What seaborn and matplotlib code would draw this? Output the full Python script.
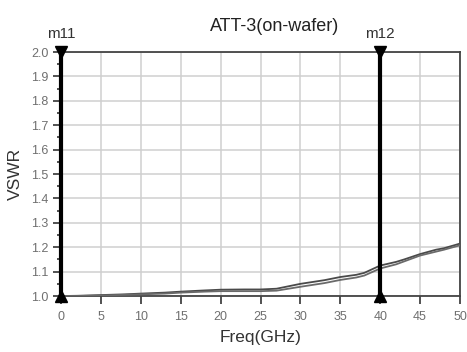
import matplotlib
matplotlib.use("Agg")
import matplotlib.pyplot as plt
import seaborn as sns
import pandas as pd
import numpy as np

freq = [0, 2, 5, 8, 10, 13, 15, 18, 20, 23, 25, 27, 30, 33, 35, 37, 38, 40, 42, 43, 45, 47, 48, 50]
vswr_a = [1.000, 1.001, 1.004, 1.007, 1.010, 1.014, 1.018, 1.023, 1.026, 1.027, 1.027, 1.030, 1.050, 1.065, 1.078, 1.087, 1.095, 1.125, 1.140, 1.150, 1.172, 1.190, 1.196, 1.215]
vswr_b = [1.000, 1.000, 1.002, 1.005, 1.007, 1.010, 1.014, 1.018, 1.020, 1.020, 1.020, 1.022, 1.038, 1.053, 1.066, 1.076, 1.084, 1.113, 1.130, 1.142, 1.166, 1.182, 1.190, 1.208]
markers = {"m11": 0, "m12": 40}
title = "ATT-3(on-wafer)"
xlabel = "Freq(GHz)"
ylabel = "VSWR"

sns.set_style("ticks")
plt.rcParams['font.family'] = ['Liberation Sans', 'DejaVu Sans']

fig = plt.figure(figsize=(4.67, 3.52), dpi=100)
ax = fig.add_axes([0.131, 0.159, 0.854, 0.693])

df = pd.DataFrame({"freq": freq * 2,
                   "vswr": vswr_a + vswr_b,
                   "trace": ["a"] * len(freq) + ["b"] * len(freq)})
sns.lineplot(data=df, x="freq", y="vswr", hue="trace",
             palette=["#4a4a4a", "#6a6a6a"], linewidth=1.3, legend=False, ax=ax,
             zorder=3)

ax.set_xlim(0, 50)
ax.set_ylim(1.0, 2.0)
ax.set_xticks(np.arange(0, 51, 5))
ax.set_yticks(np.round(np.arange(1.0, 2.01, 0.1), 1))
ax.set_yticks(np.arange(1.05, 2.0, 0.1), minor=True)
ax.set_yticklabels([f"{v:.1f}" for v in np.arange(1.0, 2.01, 0.1)])
ax.grid(True, which="major", color="#cfcfcf", linewidth=1.1)
ax.set_axisbelow(True)

ax.tick_params(axis="both", which="major", direction="out", length=6, width=1.2,
               color="#333333", labelcolor="#6f6f6f", labelsize=9, pad=3,
               left=True, bottom=True)
ax.tick_params(axis="y", which="minor", direction="out", length=3, width=1.2,
               color="#333333", left=True)
ax.tick_params(axis="x", which="minor", bottom=False)
ax.tick_params(axis="x", which="major", pad=5)

for s in ax.spines.values():
    s.set_visible(True)
    s.set_color("#444444")
    s.set_linewidth(1.3)

ax.set_xlabel(xlabel, fontsize=12.5, color="#333333", labelpad=5)
ax.set_ylabel(ylabel, fontsize=12.5, color="#333333", labelpad=6)
ax.set_title(title, fontsize=13, color="#222222", x=0.535, pad=15)

for name, xv in markers.items():
    ax.axvline(xv, color="black", linewidth=3, zorder=5, clip_on=False)
    ax.plot([xv], [2.0], marker="v", markersize=9, color="black", clip_on=False, zorder=6)
    ax.plot([xv], [1.0], marker="^", markersize=9, color="black", clip_on=False, zorder=6)
    ax.annotate(name, xy=(xv, 2.0), xytext=(0, 8), textcoords="offset points",
                ha="center", va="bottom", fontsize=11, color="#333333", annotation_clip=False)

fig.savefig("out.png", dpi=100)
